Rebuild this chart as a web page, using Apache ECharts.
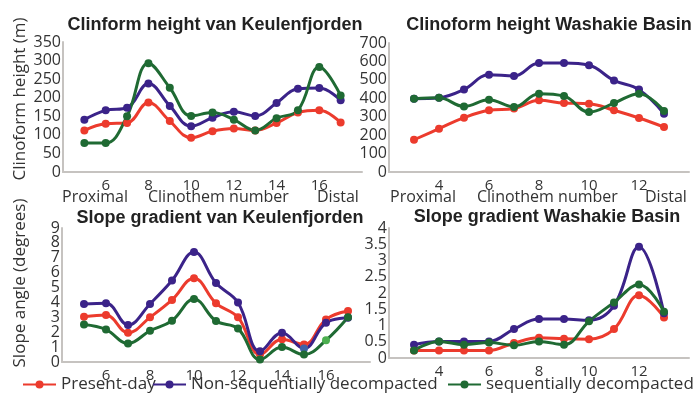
<!DOCTYPE html>
<html>
<head>
<meta charset="utf-8">
<script src="https://cdn.jsdelivr.net/npm/echarts@6/dist/echarts.min.js"></script>
<style>
  html, body { margin: 0; padding: 0; background: #fff; }
  #chart { width: 694px; height: 394px; }
</style>
</head>
<body>
<div id="chart"></div>
<script>
// Clinothem numbers for each basin
const kfClinothems = [5, 6, 7, 8, 9, 10, 11, 12, 13, 14, 15, 16, 17];
const wbClinothems = [3, 4, 5, 6, 7, 8, 9, 10, 11, 12, 13];

// Clinoform height (m), van Keulenfjorden
const kfHeightPresent = [112, 130, 132, 187, 137, 92, 110, 117, 112, 132, 160, 166, 133];
const kfHeightNonSeq  = [141, 166, 173, 238, 178, 123, 146, 162, 151, 186, 224, 226, 193];
const kfHeightSeq     = [78, 78, 150, 293, 227, 151, 160, 141, 112, 145, 166, 283, 206];

// Clinoform height (m), Washakie Basin
const wbHeightPresent = [175, 235, 295, 335, 344, 389, 374, 371, 335, 293, 244];
const wbHeightNonSeq  = [398, 403, 448, 528, 521, 591, 591, 579, 497, 447, 316];
const wbHeightSeq     = [398, 403, 356, 392, 353, 425, 412, 325, 374, 425, 331];

// Slope angle (degrees), van Keulenfjorden
const kfSlopePresent = [3.04, 3.15, 1.96, 3.0, 4.17, 5.63, 3.94, 3.0, 0.5, 1.53, 1.17, 2.86, 3.42];
const kfSlopeNonSeq  = [3.9, 3.94, 2.48, 3.9, 5.47, 7.39, 5.3, 4.0, 0.72, 1.96, 0.9, 2.64, 2.97];
const kfSlopeSeq     = [2.52, 2.18, 1.24, 2.1, 2.77, 4.23, 2.75, 2.25, 0.16, 1.0, 0.5, 1.46, 3.0];

// Slope angle (degrees), Washakie Basin
const wbSlopePresent = [0.23, 0.23, 0.23, 0.23, 0.46, 0.62, 0.59, 0.58, 0.89, 1.93, 1.25];
const wbSlopeNonSeq  = [0.41, 0.51, 0.51, 0.51, 0.89, 1.2, 1.2, 1.16, 1.61, 3.42, 1.38];
const wbSlopeSeq     = [0.23, 0.51, 0.41, 0.48, 0.39, 0.51, 0.41, 1.13, 1.71, 2.26, 1.42];

// Slope-angle ticks for van Keulenfjorden; the labels sit close together,
// so even and odd values are drawn by two stacked axes
const kfSlopeTicksEven = [0, 2, 4, 6, 8];
const kfSlopeTicksOdd  = [1, 3, 5, 7, 9];

const seriesNames = ['Present-day', 'Non-sequentially decompacted', 'sequentially decompacted'];
const panelTitles = [
  'Clinform height van Keulenfjorden',
  'Clinoform height Washakie Basin',
  'Slope gradient van Keulenfjorden',
  'Slope gradient Washakie Basin'
];
const yAxisTitles = ['Clinoform height (m)', 'Slope angle (degrees)'];
const xAxisWords = ['Proximal', 'Clinothem number', 'Distal'];

const COLORS = ['#ec3b2d', '#3b2389', '#1f6a33'];
const FONT = "'Open Sans', 'DejaVu Sans', sans-serif";
const TITLE_FONT = "'Liberation Sans', Arial, sans-serif";
const AXIS_COLOR = '#c6c3c0';
const TEXT_COLOR = '#333';

const chart = echarts.init(document.getElementById('chart'), null, { renderer: 'canvas' });

function pairs(xs, ys) {
  return xs.map((x, i) => [x, ys[i]]);
}

const grids = [
  { left: 63, top: 42, width: 299, height: 130 },
  { left: 389, top: 43, width: 300, height: 129 },
  { left: 62, top: 228, width: 308, height: 134 },
  { left: 389, top: 228, width: 300, height: 130 }
];

function xAxisFor(gridIndex, min, max) {
  return {
    type: 'value', gridIndex, min, max, interval: 2,
    axisLine: { show: true, lineStyle: { color: AXIS_COLOR, width: 2 } },
    axisTick: { show: false },
    splitLine: { show: false },
    axisLabel: {
      margin: 6, fontSize: 15, fontFamily: FONT, color: TEXT_COLOR,
      formatter: v => (v === min || v === max) ? '' : String(v)
    }
  };
}

function yAxisFor(gridIndex, max, interval, customValues, showLine) {
  const axisLabel = {
    margin: 2, fontSize: 16, fontFamily: FONT, color: TEXT_COLOR,
    showMinLabel: true, showMaxLabel: true, hideOverlap: false
  };
  if (customValues) axisLabel.customValues = customValues;
  return {
    type: 'value', gridIndex, min: 0, max, interval, position: 'left',
    axisLine: { show: showLine !== false, lineStyle: { color: AXIS_COLOR, width: 2 } },
    axisTick: { show: false },
    splitLine: { show: false },
    axisLabel
  };
}

function lineSeries(name, colorIdx, axisIdx, data) {
  return {
    name, type: 'line', xAxisIndex: axisIdx, yAxisIndex: axisIdx,
    data, smooth: 0.4, symbol: 'circle', symbolSize: 8,
    lineStyle: { width: 3, color: COLORS[colorIdx] },
    itemStyle: { color: COLORS[colorIdx] },
    emphasis: { disabled: true },
    animation: false
  };
}

// a couple of markers in the van Keulenfjorden slope panel are drawn in a different tint
const kfSlopeNonSeqData = pairs(kfClinothems, kfSlopeNonSeq);
kfSlopeNonSeqData[10] = { value: kfSlopeNonSeqData[10], itemStyle: { color: '#3f62a6' } };
const kfSlopeSeqData = pairs(kfClinothems, kfSlopeSeq);
kfSlopeSeqData[11] = { value: kfSlopeSeqData[11], itemStyle: { color: '#4caf50' } };

const series = [
  lineSeries(seriesNames[0], 0, 0, pairs(kfClinothems, kfHeightPresent)),
  lineSeries(seriesNames[1], 1, 0, pairs(kfClinothems, kfHeightNonSeq)),
  lineSeries(seriesNames[2], 2, 0, pairs(kfClinothems, kfHeightSeq)),

  lineSeries(seriesNames[0], 0, 1, pairs(wbClinothems, wbHeightPresent)),
  lineSeries(seriesNames[1], 1, 1, pairs(wbClinothems, wbHeightNonSeq)),
  lineSeries(seriesNames[2], 2, 1, pairs(wbClinothems, wbHeightSeq)),

  lineSeries(seriesNames[0], 0, 2, pairs(kfClinothems, kfSlopePresent)),
  lineSeries(seriesNames[1], 1, 2, kfSlopeNonSeqData),
  lineSeries(seriesNames[2], 2, 2, kfSlopeSeqData),

  lineSeries(seriesNames[0], 0, 3, pairs(wbClinothems, wbSlopePresent)),
  lineSeries(seriesNames[1], 1, 3, pairs(wbClinothems, wbSlopeNonSeq)),
  lineSeries(seriesNames[2], 2, 3, pairs(wbClinothems, wbSlopeSeq))
];

function text(str, x, y, opts) {
  return {
    type: 'text', x, y, silent: true,
    style: Object.assign({
      text: str, fill: TEXT_COLOR, font: `16px ${FONT}`,
      align: 'left', verticalAlign: 'middle'
    }, opts || {})
  };
}

const titleStyle = { font: `bold 18px ${TITLE_FONT}`, fill: '#222', align: 'center' };

const graphics = [
  text(panelTitles[0], 215, 25, titleStyle),
  text(panelTitles[1], 549, 25, titleStyle),
  text(panelTitles[2], 220, 218, titleStyle),
  text(panelTitles[3], 547, 217, titleStyle),

  Object.assign(text(yAxisTitles[0], 20, 99, { align: 'center', font: `17px ${FONT}` }), { rotation: Math.PI / 2 }),
  Object.assign(text(yAxisTitles[1], 20, 283, { align: 'center', font: `17px ${FONT}` }), { rotation: Math.PI / 2 }),

  text(xAxisWords[0], 62, 197),
  text(xAxisWords[1], 148, 197),
  text(xAxisWords[2], 317, 197),
  text(xAxisWords[0], 390, 197),
  text(xAxisWords[1], 477, 197),
  text(xAxisWords[2], 645, 197)
];

function legendFor(name, left) {
  return {
    left, top: 376, data: [name], padding: 0,
    itemWidth: 33, itemHeight: 10, itemGap: 0,
    selectedMode: false,
    textStyle: { fontSize: 17, fontFamily: FONT, color: TEXT_COLOR, padding: 0 }
  };
}

chart.setOption({
  animation: false,
  backgroundColor: '#fff',
  grid: grids,
  xAxis: [xAxisFor(0, 4, 18), xAxisFor(1, 2, 14), xAxisFor(2, 4, 18), xAxisFor(3, 2, 14)],
  yAxis: [
    yAxisFor(0, 350, 50),
    yAxisFor(1, 700, 100),
    yAxisFor(2, 9, 1, kfSlopeTicksEven),
    yAxisFor(3, 4, 0.5),
    yAxisFor(2, 9, 1, kfSlopeTicksOdd, false)
  ],
  legend: [legendFor(seriesNames[0], 22), legendFor(seriesNames[1], 152), legendFor(seriesNames[2], 447)],
  series,
  graphic: graphics
});
</script>
</body>
</html>
